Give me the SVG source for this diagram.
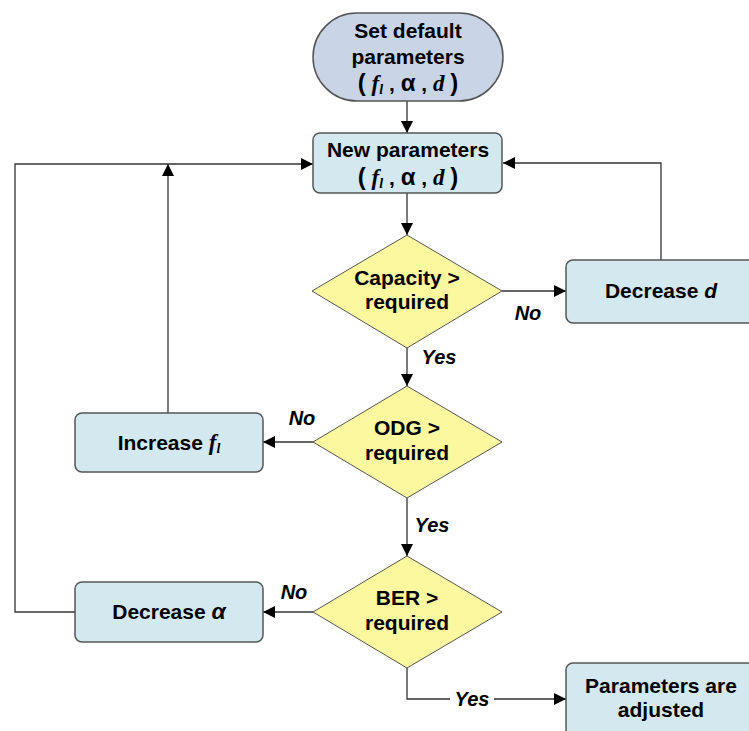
<svg xmlns="http://www.w3.org/2000/svg" width="749" height="731" viewBox="0 0 749 731">
<defs>
<marker id="ah" viewBox="0 0 10 10" refX="10" refY="5" markerWidth="12" markerHeight="12" markerUnits="userSpaceOnUse" orient="auto">
<path d="M0,0 L10,5 L0,10 z" fill="#000"/>
</marker>
<style>
.box{fill:#d3e9ef;stroke:#555;stroke-width:1.5}
.oval{fill:#c9d5e6;stroke:#555;stroke-width:1.5}
.dia{fill:#fcf8a0;stroke:#555;stroke-width:1}
.t{font-family:"Liberation Sans",Arial,sans-serif;font-weight:bold;font-size:21px;fill:#000;text-anchor:middle}
.lbl{font-family:"Liberation Sans",Arial,sans-serif;font-weight:bold;font-style:italic;font-size:20px;fill:#000;text-anchor:middle}
.ser{font-family:"Liberation Serif","Times New Roman",serif;font-style:italic;font-weight:bold;font-size:23px}
.big{font-size:24px}
.c{fill:none;stroke:#333;stroke-width:1.3}
</style>
</defs>
<rect width="749" height="731" fill="#fff"/>
<g id="connectors">
<line class="c" x1="407" y1="101" x2="407" y2="133" marker-end="url(#ah)"/>
<line class="c" x1="407" y1="193" x2="407" y2="235" marker-end="url(#ah)"/>
<line class="c" x1="502" y1="291" x2="566" y2="291" marker-end="url(#ah)"/>
<polyline class="c" points="661,260 661,163 503,163" marker-end="url(#ah)"/>
<line class="c" x1="407" y1="348" x2="407" y2="386" marker-end="url(#ah)"/>
<line class="c" x1="313" y1="442" x2="263" y2="442" marker-end="url(#ah)"/>
<line class="c" x1="168" y1="413" x2="168" y2="164" marker-end="url(#ah)"/>
<line class="c" x1="407" y1="498" x2="407" y2="556" marker-end="url(#ah)"/>
<line class="c" x1="313" y1="612" x2="263" y2="612" marker-end="url(#ah)"/>
<polyline class="c" points="75,612 15,612 15,164 313,164" marker-end="url(#ah)"/>
<polyline class="c" points="407,668 407,699 566,699" marker-end="url(#ah)"/>
</g>
<g id="labels">
<text class="lbl" x="439" y="364">Yes</text>
<text class="lbl" x="528" y="320">No</text>
<text class="lbl" x="302" y="425">No</text>
<text class="lbl" x="432" y="532">Yes</text>
<text class="lbl" x="294" y="599">No</text>
<rect x="450" y="687" width="44" height="22" fill="#fff"/>
<text class="lbl" x="472" y="706">Yes</text>
</g>
<g id="start">
<rect class="oval" x="313" y="13" width="190" height="88" rx="44" ry="44"/>
<text class="t" x="408" y="38">Set default</text>
<text class="t" x="408" y="64">parameters</text>
<text class="t" x="408" y="91"><tspan class="big">(</tspan> <tspan class="ser">f<tspan font-size="14" dy="3">l</tspan></tspan><tspan dy="-3"> , </tspan><tspan class="big">α</tspan> , <tspan class="ser">d</tspan> <tspan class="big">)</tspan></text>
</g>
<g id="newparams">
<rect class="box" x="313" y="133" width="189" height="60" rx="7" ry="7"/>
<text class="t" x="408" y="157">New parameters</text>
<text class="t" x="408" y="185"><tspan class="big">(</tspan> <tspan class="ser">f<tspan font-size="14" dy="3">l</tspan></tspan><tspan dy="-3"> , </tspan><tspan class="big">α</tspan> , <tspan class="ser">d</tspan> <tspan class="big">)</tspan></text>
</g>
<g id="capacity">
<polygon class="dia" points="407,235 502,291 407,348 312,291"/>
<text class="t" x="407" y="285">Capacity &gt;</text>
<text class="t" x="407" y="309">required</text>
</g>
<g id="decreased">
<rect class="box" x="566" y="260" width="200" height="63" rx="7" ry="7"/>
<text class="t" x="661" y="298">Decrease <tspan font-style="italic">d</tspan></text>
</g>
<g id="odg">
<polygon class="dia" points="407,386 502,442 407,498 313,442"/>
<text class="t" x="407" y="435">ODG &gt;</text>
<text class="t" x="407" y="460">required</text>
</g>
<g id="increase">
<rect class="box" x="75" y="413" width="188" height="59" rx="7" ry="7"/>
<text class="t" x="169" y="450">Increase <tspan class="ser">f<tspan font-size="14" dy="3">l</tspan></tspan></text>
</g>
<g id="ber">
<polygon class="dia" points="407,556 502,612 407,668 313,612"/>
<text class="t" x="407" y="605">BER &gt;</text>
<text class="t" x="407" y="630">required</text>
</g>
<g id="decreasealpha">
<rect class="box" x="75" y="582" width="188" height="60" rx="7" ry="7"/>
<text class="t" x="169" y="619">Decrease <tspan font-style="italic" font-size="23">α</tspan></text>
</g>
<g id="adjusted">
<rect class="box" x="566" y="663" width="200" height="80" rx="7" ry="7"/>
<text class="t" x="661" y="693">Parameters are</text>
<text class="t" x="661" y="717">adjusted</text>
</g>
</svg>
